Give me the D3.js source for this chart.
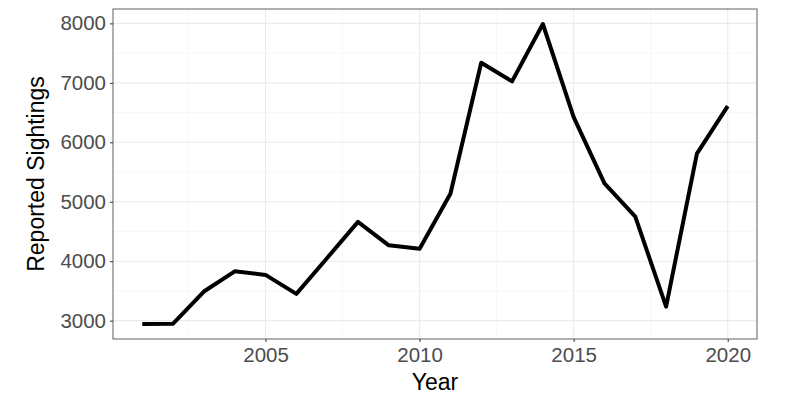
<!DOCTYPE html>
<html>
<head>
<meta charset="utf-8">
<script src="https://cdn.jsdelivr.net/npm/d3@7"></script>
<style>
  html, body { margin: 0; padding: 0; background: #fff; }
  svg { display: block; font-family: "Liberation Sans", Arial, sans-serif; }
</style>
</head>
<body>
<svg id="chart" width="800" height="401"></svg>
<script>
const years = [2001, 2002, 2003, 2004, 2005, 2006, 2007, 2008, 2009, 2010,
               2011, 2012, 2013, 2014, 2015, 2016, 2017, 2018, 2019, 2020];
const sightings = [2944, 2950, 3490, 3830, 3770, 3450, 4055, 4662, 4268, 4210,
                   5135, 7338, 7025, 7990, 6425, 5310, 4750, 3235, 5810, 6608];
const xTicks = [2005, 2010, 2015, 2020];
const xMinor = [2002.5, 2007.5, 2012.5, 2017.5];
const yTicks = [3000, 4000, 5000, 6000, 7000, 8000];
const yMinor = [3500, 4500, 5500, 6500, 7500];
const xTitle = "Year";
const yTitle = "Reported Sightings";

const svg = d3.select("#chart");
const m = { left: 113, right: 757, top: 9, bottom: 339 };

function expand(ext) {
  const pad = (ext[1] - ext[0]) * 0.05;
  return [ext[0] - pad, ext[1] + pad];
}
const x = d3.scaleLinear().domain(expand(d3.extent(years))).range([m.left, m.right]);
const y = d3.scaleLinear().domain(expand(d3.extent(sightings))).range([m.bottom, m.top]);

const grid = svg.append("g");
grid.selectAll(".xmin").data(xMinor).join("line")
  .attr("x1", d => x(d)).attr("x2", d => x(d))
  .attr("y1", m.top).attr("y2", m.bottom)
  .attr("stroke", "#F2F2F2").attr("stroke-width", 0.6);
grid.selectAll(".ymin").data(yMinor).join("line")
  .attr("y1", d => y(d)).attr("y2", d => y(d))
  .attr("x1", m.left).attr("x2", m.right)
  .attr("stroke", "#F2F2F2").attr("stroke-width", 0.6);
grid.selectAll(".xmaj").data(xTicks).join("line")
  .attr("x1", d => x(d)).attr("x2", d => x(d))
  .attr("y1", m.top).attr("y2", m.bottom)
  .attr("stroke", "#EBEBEB").attr("stroke-width", 1.1);
grid.selectAll(".ymaj").data(yTicks).join("line")
  .attr("y1", d => y(d)).attr("y2", d => y(d))
  .attr("x1", m.left).attr("x2", m.right)
  .attr("stroke", "#EBEBEB").attr("stroke-width", 1.1);

const line = d3.line().x((d, i) => x(years[i])).y(d => y(d));
svg.append("path").datum(sightings)
  .attr("d", line)
  .attr("fill", "none").attr("stroke", "#000").attr("stroke-width", 4)
  .attr("stroke-linejoin", "round").attr("stroke-linecap", "butt");

svg.append("rect")
  .attr("x", m.left).attr("y", m.top)
  .attr("width", m.right - m.left).attr("height", m.bottom - m.top)
  .attr("fill", "none").attr("stroke", "#6E6E6E").attr("stroke-width", 1.1);

const xAxis = svg.append("g").attr("transform", `translate(0,${m.bottom})`)
  .call(d3.axisBottom(x).tickValues(xTicks).tickFormat(d3.format("d")).tickSize(3).tickPadding(5));
const yAxis = svg.append("g").attr("transform", `translate(${m.left},0)`)
  .call(d3.axisLeft(y).tickValues(yTicks).tickFormat(d3.format("d")).tickSize(3).tickPadding(4));
[xAxis, yAxis].forEach(a => {
  a.select(".domain").remove();
  a.selectAll(".tick line").attr("stroke", "#333");
  a.selectAll(".tick text").attr("fill", "#4D4D4D").style("font-size", "20.5px")
    .style("font-family", "'Liberation Sans', Arial, sans-serif");
});

svg.append("text")
  .attr("x", (m.left + m.right) / 2).attr("y", 390)
  .attr("text-anchor", "middle").attr("fill", "#000")
  .style("font-size", "23px").text(xTitle);
svg.append("text")
  .attr("transform", `translate(44,${(m.top + m.bottom) / 2}) rotate(-90)`)
  .attr("text-anchor", "middle").attr("fill", "#000")
  .style("font-size", "23px").text(yTitle);
</script>
</body>
</html>
